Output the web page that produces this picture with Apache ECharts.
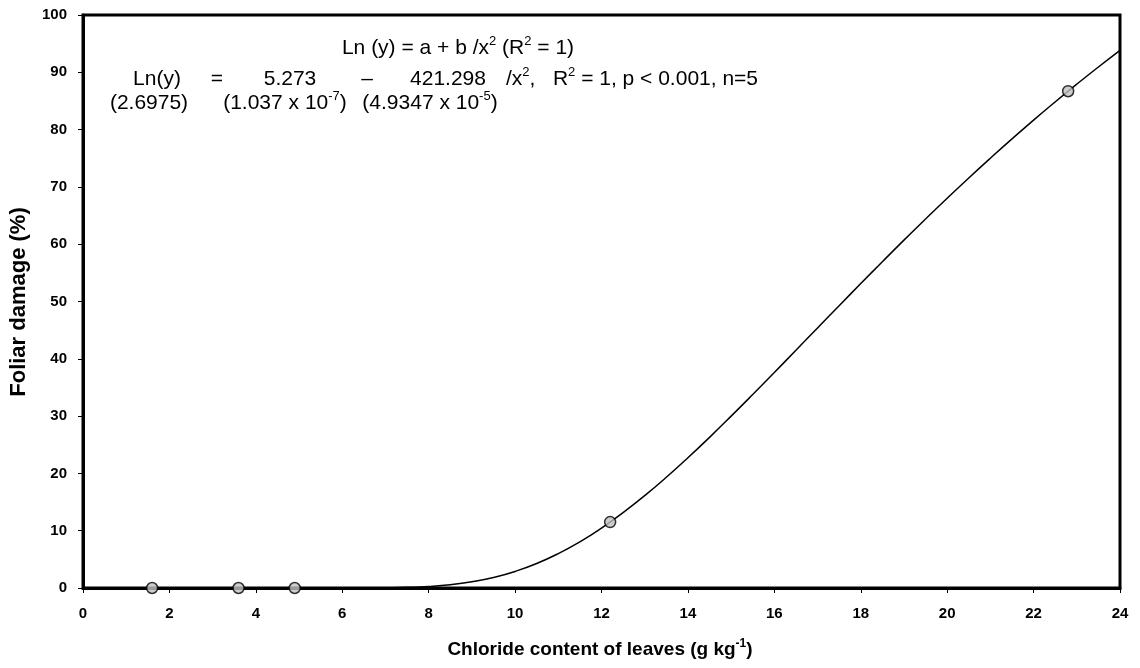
<!DOCTYPE html>
<html>
<head>
<meta charset="utf-8">
<script src="https://cdn.jsdelivr.net/npm/echarts@6/dist/echarts.min.js"></script>
<style>
  html, body { margin: 0; padding: 0; background: #ffffff; }
  #chart { width: 1140px; height: 668px; }
</style>
</head>
<body>
<div id="chart"></div>
<script>
// Observed foliar damage against leaf chloride content
const obsChloride = [1.6, 3.6, 4.9, 12.2, 22.8];
const obsDamage = [0, 0, 0, 11.5, 86.7];

// Fitted curve Ln(y) = a + b/x^2, sampled along the chloride range
const curveChloride = [6, 6.5, 7, 7.5, 8, 8.5, 9, 9.5, 10, 10.5, 11, 11.5, 12, 12.5, 13, 13.5, 14, 14.5, 15, 15.5, 16, 16.5, 17, 17.5, 18, 18.5, 19, 19.5, 20, 20.5, 21, 21.5, 22, 22.5, 23, 23.5, 24];
const curveDamage = [0.00, 0.01, 0.04, 0.11, 0.27, 0.57, 1.08, 1.83, 2.89, 4.27, 6.00, 8.06, 10.46, 13.16, 16.12, 19.32, 22.73, 26.29, 29.99, 33.77, 37.61, 41.49, 45.39, 49.27, 53.13, 56.94, 60.71, 64.40, 68.02, 71.56, 75.01, 78.38, 81.66, 84.84, 87.93, 90.93, 93.84];

// Axis settings
const xTicks = [0, 2, 4, 6, 8, 10, 12, 14, 16, 18, 20, 22, 24];
const yTicks = [0, 10, 20, 30, 40, 50, 60, 70, 80, 90, 100];

const FONT = '"Liberation Sans", Arial, Helvetica, sans-serif';
const EQ_SIZE = 21;
const SUP_SIZE = 13;

const chart = echarts.init(document.getElementById('chart'), null, { renderer: 'canvas' });

const richEq = {
  n: { fontFamily: FONT, fontSize: EQ_SIZE, fill: '#000', lineHeight: 26 },
  s: { fontFamily: FONT, fontSize: SUP_SIZE, fill: '#000', lineHeight: 26, verticalAlign: 'top' }
};

function eqText(x, y, text, align) {
  return {
    type: 'text', x: x, y: y, silent: true,
    style: { text: text, textAlign: align || 'center', textVerticalAlign: 'middle', rich: richEq }
  };
}

const option = {
  backgroundColor: '#ffffff',
  animation: false,
  grid: {
    left: 83, right: 20, top: 15, bottom: 80,
    show: true, borderColor: '#000', borderWidth: 3, backgroundColor: 'transparent'
  },
  xAxis: {
    type: 'value', min: xTicks[0], max: xTicks[xTicks.length - 1], interval: 2,
    axisLine: { show: true, onZero: false, lineStyle: { color: '#000', width: 3 } },
    axisTick: { show: true, inside: false, length: 5, lineStyle: { color: '#000', width: 1 } },
    axisLabel: { margin: 18, fontFamily: FONT, fontSize: 15, fontWeight: 'bold', color: '#000' },
    splitLine: { show: false }
  },
  yAxis: {
    type: 'value', min: yTicks[0], max: yTicks[yTicks.length - 1], interval: 10,
    axisLine: { show: true, lineStyle: { color: '#000', width: 3 } },
    axisTick: { show: true, inside: false, length: 5, lineStyle: { color: '#000', width: 1 } },
    axisLabel: { margin: 16, fontFamily: FONT, fontSize: 15, fontWeight: 'bold', color: '#000' },
    splitLine: { show: false }
  },
  series: [
    {
      type: 'line', name: 'fit', smooth: true, showSymbol: false, symbol: 'none',
      data: curveChloride.map((x, i) => [x, curveDamage[i]]),
      lineStyle: { color: '#000', width: 1.5 }, z: 2
    },
    {
      type: 'scatter', name: 'observed', symbol: 'circle', symbolSize: 11,
      data: obsChloride.map((x, i) => [x, obsDamage[i]]),
      itemStyle: { color: '#c0c0c0', borderColor: '#000', borderWidth: 1.5 }, z: 5
    }
  ],
  graphic: [
    // axis titles
    {
      type: 'text', x: 600, y: 650, silent: true,
      style: {
        text: '{t|Chloride content of leaves (g kg}{s|-1}{t|)}',
        textAlign: 'center', textVerticalAlign: 'middle',
        rich: {
          t: { fontFamily: FONT, fontSize: 19, fontWeight: 'bold', fill: '#000', lineHeight: 24 },
          s: { fontFamily: FONT, fontSize: 12, fontWeight: 'bold', fill: '#000', lineHeight: 24, verticalAlign: 'top' }
        }
      }
    },
    {
      type: 'text', x: 19, y: 302, rotation: Math.PI / 2, silent: true,
      style: {
        text: 'Foliar damage (%)', textAlign: 'center', textVerticalAlign: 'middle',
        fontFamily: FONT, fontSize: 22, fontWeight: 'bold', fill: '#000'
      }
    },
    // model form
    eqText(458, 48, '{n|Ln (y) = a + b /x}{s|2}{n| (R}{s|2}{n| = 1)}'),
    // fitted equation
    eqText(157, 79, '{n|Ln(y)}'),
    eqText(217, 79, '{n|=}'),
    eqText(290, 79, '{n|5.273}'),
    eqText(367, 79, '{n|\u2013}'),
    eqText(448, 79, '{n|421.298}'),
    eqText(506, 79, '{n|/x}{s|2}{n|,   R}{s|2}{n| = 1, p < 0.001, n=5}', 'left'),
    // standard errors
    eqText(149, 103, '{n|(2.6975)}'),
    eqText(285, 103, '{n|(1.037 x 10}{s|-7}{n|)}'),
    eqText(430, 103, '{n|(4.9347 x 10}{s|-5}{n|)}')
  ]
};

chart.setOption(option);
</script>
</body>
</html>
